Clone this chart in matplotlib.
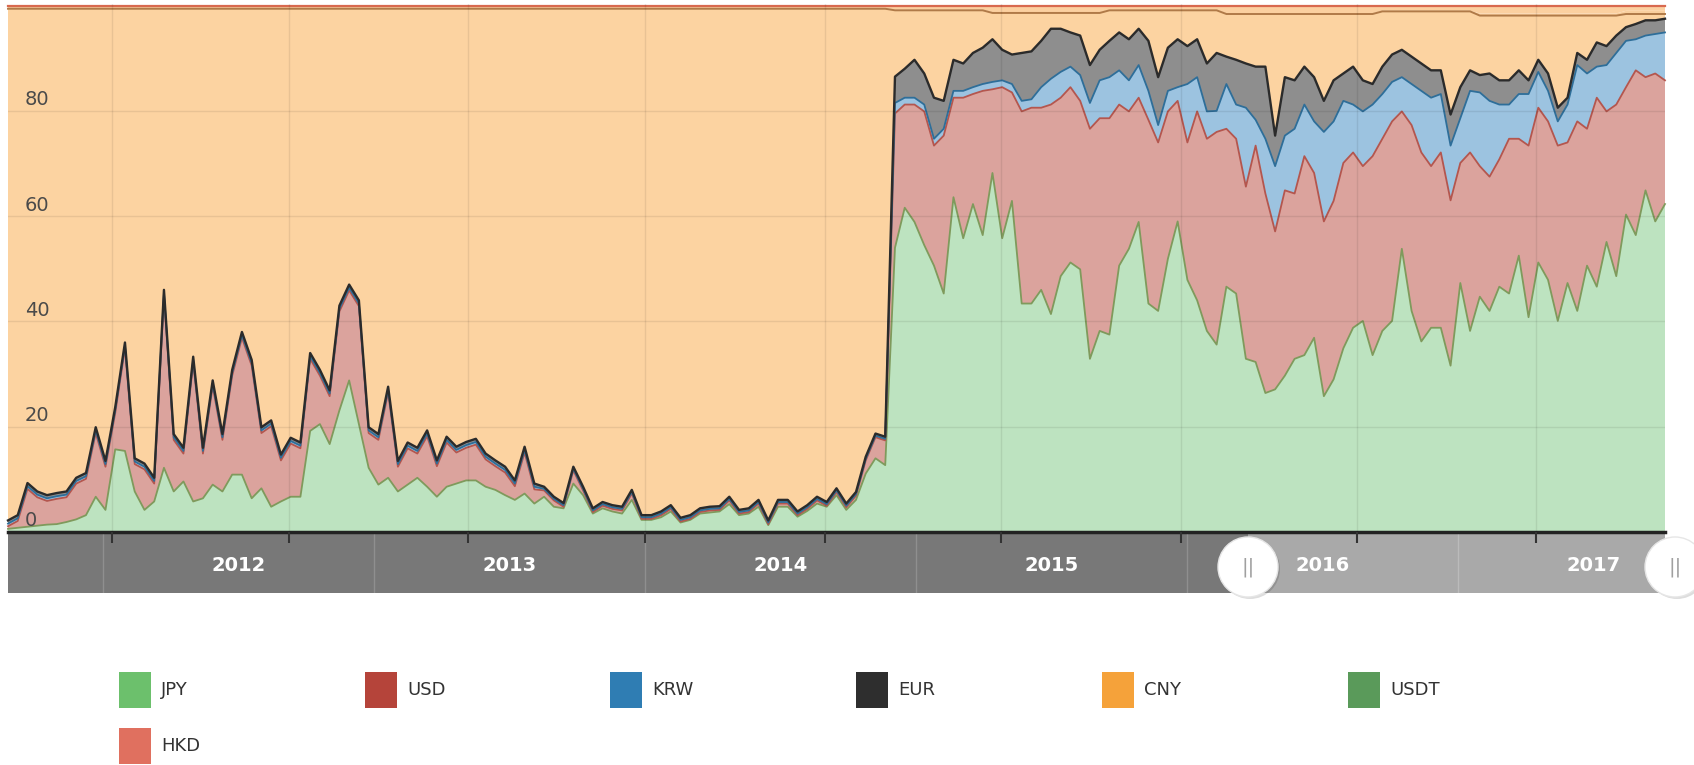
import numpy as np
import pandas as pd
import matplotlib
matplotlib.use('Agg')
import matplotlib.pyplot as plt
import matplotlib.dates as mdates
from matplotlib.patches import Rectangle, Ellipse
from matplotlib.transforms import blended_transform_factory

# share of volume by currency, one value every 10 days
jpy = [
    0.6, 0.8, 1.0, 1.2, 1.4, 1.5, 1.9, 2.4, 3.2, 6.7,
    4.2, 15.7, 15.4, 7.7, 4.2, 5.8, 12.2, 7.7, 9.6, 5.8,
    6.4, 9.0, 7.7, 10.9, 10.9, 6.4, 8.3, 4.8, 5.8, 6.7,
    6.7, 19.2, 20.5, 16.7, 23.1, 28.8, 20.5, 12.2, 9.0, 10.3,
    7.7, 9.0, 10.3, 8.6, 6.7, 8.6, 9.2, 9.8, 9.8, 8.6,
    8.0, 7.0, 6.1, 7.3, 5.4, 6.7, 4.8, 4.5, 9.2, 7.0,
    3.5, 4.5, 3.9, 3.5, 6.1, 2.3, 2.3, 2.8, 3.9, 1.8,
    2.3, 3.5, 3.7, 3.9, 5.3, 3.2, 3.5, 4.8, 1.3, 4.8,
    4.8, 2.9, 4.0, 5.4, 4.8, 7.0, 4.2, 6.1, 11.1, 14.0,
    12.7, 54.0, 61.6, 58.9, 54.5, 50.6, 45.3, 63.6, 55.8, 62.3,
    56.4, 68.2, 55.8, 62.9, 43.4, 43.4, 46.0, 41.4, 48.6, 51.2,
    49.9, 32.9, 38.2, 37.5, 50.6, 53.8, 58.9, 43.4, 42.0, 51.9,
    59.0, 47.9, 44.0, 38.2, 35.6, 46.6, 45.3, 32.9, 32.3, 26.4,
    27.1, 29.7, 32.9, 33.6, 36.9, 25.8, 29.0, 34.9, 38.8, 40.1,
    33.6, 38.2, 40.1, 53.8, 42.0, 36.2, 38.8, 38.8, 31.6, 47.3,
    38.2, 44.7, 42.0, 46.6, 45.3, 52.5, 40.8, 51.2, 47.9, 40.1,
    47.3, 42.0, 50.6, 46.6, 55.1, 48.6, 60.3, 56.4, 64.9, 59.0,
    62.3,
]
usd = [
    0.5, 1.3, 7.2, 5.4, 4.5, 4.8, 4.7, 6.8, 6.9, 12.1,
    8.2, 6.9, 19.5, 5.2, 7.7, 3.4, 32.7, 9.8, 5.3, 26.4,
    8.5, 18.7, 9.8, 18.8, 26.0, 25.2, 10.5, 15.3, 7.8, 10.1,
    9.2, 13.7, 9.2, 9.1, 18.8, 17.1, 22.4, 6.6, 8.5, 16.2,
    4.7, 6.9, 4.6, 9.6, 5.8, 8.4, 5.9, 6.2, 6.8, 5.2,
    4.5, 4.3, 2.6, 7.8, 2.7, 1.2, 1.2, 0.3, 2.5, 0.9,
    0.3, 0.5, 0.5, 0.6, 1.2, 0.2, 0.2, 0.4, 0.5, 0.2,
    0.2, 0.3, 0.4, 0.3, 0.7, 0.3, 0.3, 0.6, 0.2, 0.6,
    0.6, 0.3, 0.4, 0.6, 0.2, 0.6, 0.5, 0.8, 2.5, 4.0,
    4.7, 25.5, 19.6, 22.3, 25.4, 22.8, 30.0, 18.9, 26.7, 20.9,
    27.4, 15.9, 28.7, 20.6, 36.5, 37.2, 34.6, 39.8, 33.9, 33.3,
    32.0, 43.7, 40.4, 41.1, 30.6, 26.1, 23.6, 34.9, 32.0, 28.0,
    22.9, 26.1, 35.9, 36.5, 40.4, 30.0, 29.4, 32.7, 41.1, 37.9,
    30.0, 35.2, 31.4, 37.8, 31.3, 33.2, 33.9, 35.2, 33.3, 29.4,
    37.8, 36.5, 37.9, 26.1, 35.3, 35.9, 30.7, 33.3, 31.4, 22.8,
    33.9, 24.8, 25.5, 24.2, 29.4, 22.2, 32.6, 29.4, 30.1, 33.3,
    26.7, 36.0, 26.0, 35.9, 24.8, 32.6, 24.2, 31.3, 21.5, 28.1,
    23.5,
]
krw = [
    0.5, 0.5, 0.5, 0.5, 0.5, 0.5, 0.5, 0.5, 0.5, 0.5,
    0.5, 0.5, 0.5, 0.5, 0.5, 0.5, 0.5, 0.5, 0.5, 0.5,
    0.5, 0.5, 0.5, 0.5, 0.5, 0.5, 0.5, 0.5, 0.5, 0.5,
    0.5, 0.5, 0.5, 0.5, 0.5, 0.5, 0.5, 0.5, 0.5, 0.5,
    0.5, 0.5, 0.5, 0.5, 0.5, 0.5, 0.5, 0.5, 0.5, 0.5,
    0.5, 0.5, 0.5, 0.5, 0.5, 0.3, 0.3, 0.3, 0.3, 0.3,
    0.3, 0.3, 0.3, 0.3, 0.3, 0.3, 0.3, 0.3, 0.3, 0.3,
    0.3, 0.3, 0.3, 0.3, 0.3, 0.3, 0.3, 0.3, 0.3, 0.3,
    0.3, 0.3, 0.3, 0.3, 0.3, 0.3, 0.3, 0.3, 0.3, 0.3,
    0.3, 2.0, 1.3, 1.3, 1.3, 1.3, 1.3, 1.3, 1.3, 1.3,
    1.3, 1.4, 1.3, 1.6, 2.0, 1.6, 3.9, 4.9, 4.9, 3.9,
    4.9, 4.9, 7.2, 7.8, 6.5, 5.9, 6.2, 5.5, 3.3, 3.9,
    2.6, 11.1, 6.5, 5.2, 4.0, 8.5, 6.5, 15.0, 4.9, 10.4,
    12.4, 10.4, 12.3, 9.8, 9.8, 17.0, 15.1, 11.8, 9.1, 10.4,
    9.8, 8.5, 7.5, 6.5, 7.8, 11.7, 13.0, 11.1, 10.4, 8.5,
    11.7, 14.0, 14.4, 10.4, 6.5, 8.5, 9.8, 6.8, 5.8, 4.6,
    7.2, 10.7, 10.5, 5.9, 8.8, 9.8, 8.8, 5.9, 7.9, 7.5,
    9.1,
]
eur = [
    0.6, 0.6, 0.6, 0.6, 0.6, 0.6, 0.6, 0.6, 0.6, 0.6,
    0.6, 0.6, 0.6, 0.6, 0.6, 0.6, 0.6, 0.6, 0.6, 0.6,
    0.6, 0.6, 0.6, 0.6, 0.6, 0.6, 0.6, 0.6, 0.6, 0.6,
    0.6, 0.6, 0.6, 0.6, 0.6, 0.6, 0.6, 0.6, 0.6, 0.6,
    0.6, 0.6, 0.6, 0.6, 0.6, 0.6, 0.6, 0.6, 0.6, 0.6,
    0.6, 0.6, 0.6, 0.6, 0.6, 0.4, 0.4, 0.4, 0.4, 0.4,
    0.4, 0.4, 0.4, 0.4, 0.4, 0.4, 0.4, 0.4, 0.4, 0.4,
    0.4, 0.4, 0.4, 0.4, 0.4, 0.4, 0.4, 0.4, 0.4, 0.4,
    0.4, 0.4, 0.4, 0.4, 0.4, 0.4, 0.4, 0.4, 0.4, 0.4,
    0.4, 5.0, 5.5, 7.2, 5.9, 7.8, 5.3, 5.9, 5.2, 6.5,
    6.9, 8.1, 5.8, 5.6, 9.1, 9.1, 8.8, 9.5, 8.2, 6.5,
    7.5, 7.2, 5.8, 6.9, 7.2, 7.8, 6.9, 9.5, 9.1, 8.2,
    9.1, 7.2, 7.2, 9.1, 11.0, 5.2, 8.5, 8.4, 10.1, 13.7,
    5.8, 11.1, 9.2, 7.2, 8.4, 5.9, 7.8, 5.2, 7.2, 5.9,
    3.9, 5.2, 5.2, 5.2, 5.2, 5.2, 5.2, 4.5, 5.9, 5.9,
    3.9, 3.3, 5.2, 4.6, 4.6, 4.5, 2.6, 2.3, 3.3, 2.6,
    1.3, 2.3, 2.6, 4.6, 3.6, 3.3, 2.6, 2.9, 2.9, 2.6,
    2.6,
]
cny = [
    97.2, 96.2, 90.1, 91.7, 92.4, 92.0, 91.7, 89.1, 88.2, 79.5,
    85.9, 75.7, 63.4, 85.4, 86.4, 89.1, 53.4, 80.8, 83.4, 66.1,
    83.4, 70.6, 80.8, 68.6, 61.4, 66.7, 79.5, 78.2, 84.7, 81.5,
    82.4, 65.4, 68.6, 72.5, 56.4, 52.4, 55.4, 79.5, 80.8, 71.8,
    85.9, 82.4, 83.4, 80.1, 85.8, 81.3, 83.2, 82.3, 81.7, 84.5,
    85.8, 87.0, 89.6, 83.2, 90.2, 90.8, 92.7, 94.0, 87.0, 90.8,
    94.9, 93.7, 94.3, 94.6, 91.4, 96.2, 96.2, 95.5, 94.3, 96.8,
    96.2, 94.9, 94.6, 94.5, 92.7, 95.2, 94.9, 93.3, 97.4, 93.3,
    93.3, 95.5, 94.3, 92.7, 93.7, 91.1, 94.0, 91.8, 85.1, 80.7,
    81.3, 12.6, 11.1, 9.4, 12.0, 16.6, 17.2, 9.4, 10.1, 8.1,
    7.1, 5.0, 7.0, 7.9, 7.6, 7.3, 5.3, 3.0, 3.0, 3.7,
    4.3, 9.9, 7.0, 5.8, 4.2, 5.5, 3.5, 5.8, 12.7, 7.1,
    5.5, 6.8, 5.5, 10.1, 8.1, 8.1, 8.7, 9.4, 10.0, 10.0,
    23.1, 12.0, 12.6, 10.0, 12.0, 16.5, 12.6, 11.3, 10.0, 12.6,
    13.3, 10.5, 8.2, 7.3, 8.6, 9.9, 11.2, 11.2, 19.6, 14.4,
    11.2, 11.3, 11.0, 12.3, 12.3, 10.4, 12.3, 8.4, 11.0, 17.5,
    15.6, 7.1, 8.4, 5.1, 5.8, 3.8, 2.5, 1.9, 1.2, 1.2,
    0.9,
]
usdt = [
    0.1, 0.1, 0.1, 0.1, 0.1, 0.1, 0.1, 0.1, 0.1, 0.1,
    0.1, 0.1, 0.1, 0.1, 0.1, 0.1, 0.1, 0.1, 0.1, 0.1,
    0.1, 0.1, 0.1, 0.1, 0.1, 0.1, 0.1, 0.1, 0.1, 0.1,
    0.1, 0.1, 0.1, 0.1, 0.1, 0.1, 0.1, 0.1, 0.1, 0.1,
    0.1, 0.1, 0.1, 0.1, 0.1, 0.1, 0.1, 0.1, 0.1, 0.1,
    0.1, 0.1, 0.1, 0.1, 0.1, 0.1, 0.1, 0.1, 0.1, 0.1,
    0.1, 0.1, 0.1, 0.1, 0.1, 0.1, 0.1, 0.1, 0.1, 0.1,
    0.1, 0.1, 0.1, 0.1, 0.1, 0.1, 0.1, 0.1, 0.1, 0.1,
    0.1, 0.1, 0.1, 0.1, 0.1, 0.1, 0.1, 0.1, 0.1, 0.1,
    0.1, 0.1, 0.1, 0.1, 0.1, 0.1, 0.1, 0.1, 0.1, 0.1,
    0.1, 0.1, 0.1, 0.1, 0.1, 0.1, 0.1, 0.1, 0.1, 0.1,
    0.1, 0.1, 0.1, 0.1, 0.1, 0.1, 0.1, 0.1, 0.1, 0.1,
    0.1, 0.1, 0.1, 0.1, 0.1, 0.1, 0.1, 0.1, 0.1, 0.1,
    0.1, 0.1, 0.1, 0.1, 0.1, 0.1, 0.1, 0.1, 0.1, 0.1,
    0.1, 0.1, 0.1, 0.1, 0.1, 0.1, 0.1, 0.1, 0.1, 0.1,
    0.1, 0.4, 0.4, 0.4, 0.4, 0.4, 0.4, 0.4, 0.4, 0.4,
    0.4, 0.4, 0.4, 0.4, 0.4, 0.4, 0.6, 0.6, 0.6, 0.6,
    0.6,
]
hkd = [
    0.5, 0.5, 0.5, 0.5, 0.5, 0.5, 0.5, 0.5, 0.5, 0.5,
    0.5, 0.5, 0.5, 0.5, 0.5, 0.5, 0.5, 0.5, 0.5, 0.5,
    0.5, 0.5, 0.5, 0.5, 0.5, 0.5, 0.5, 0.5, 0.5, 0.5,
    0.5, 0.5, 0.5, 0.5, 0.5, 0.5, 0.5, 0.5, 0.5, 0.5,
    0.5, 0.5, 0.5, 0.5, 0.5, 0.5, 0.5, 0.5, 0.5, 0.5,
    0.5, 0.5, 0.5, 0.5, 0.5, 0.5, 0.5, 0.5, 0.5, 0.5,
    0.5, 0.5, 0.5, 0.5, 0.5, 0.5, 0.5, 0.5, 0.5, 0.5,
    0.5, 0.5, 0.5, 0.5, 0.5, 0.5, 0.5, 0.5, 0.5, 0.5,
    0.5, 0.5, 0.5, 0.5, 0.5, 0.5, 0.5, 0.5, 0.5, 0.5,
    0.5, 0.8, 0.8, 0.8, 0.8, 0.8, 0.8, 0.8, 0.8, 0.8,
    0.8, 1.3, 1.3, 1.3, 1.3, 1.3, 1.3, 1.3, 1.3, 1.3,
    1.3, 1.3, 1.3, 0.8, 0.8, 0.8, 0.8, 0.8, 0.8, 0.8,
    0.8, 0.8, 0.8, 0.8, 0.8, 1.5, 1.5, 1.5, 1.5, 1.5,
    1.5, 1.5, 1.5, 1.5, 1.5, 1.5, 1.5, 1.5, 1.5, 1.5,
    1.5, 1.0, 1.0, 1.0, 1.0, 1.0, 1.0, 1.0, 1.0, 1.0,
    1.0, 1.5, 1.5, 1.5, 1.5, 1.5, 1.5, 1.5, 1.5, 1.5,
    1.5, 1.5, 1.5, 1.5, 1.5, 1.5, 1.0, 1.0, 1.0, 1.0,
    1.0,
]

names = ['JPY', 'USD', 'KRW', 'EUR', 'CNY', 'USDT', 'HKD']
legend_colors = ['#6cc06c', '#b5443a', '#2f7db3', '#2e2e2e', '#f5a23a', '#5a9a5a', '#e0705f']
fill_colors = ['#bde3c0', '#dba39d', '#9cc3e0', '#8e8e8e', '#fcd3a1', '#f9cf9e', '#fbd0a0']
edge_colors = ['#7f9a5c', '#b4564e', '#2e6e99', '#2b2b2b', '#b07a48', None, '#d8694f']
edge_widths = [1.3, 1.3, 1.3, 1.7, 1.4, 0, 1.6]
year_labels = ['2012', '2013', '2014', '2015', '2016', '2017']

series = [jpy, usd, krw, eur, cny, usdt, hkd]
for s in series:
    assert len(s) == 171, len(s)

W, H = 1694, 765
dates = pd.date_range('2014-09-16', periods=len(jpy), freq='10D')
vals = np.array(series, dtype=float)
pct = vals / vals.sum(axis=0) * 100  # percent stacking
tops = np.cumsum(pct, axis=0)

fig = plt.figure(figsize=(W / 100, H / 100), dpi=100)
fig.patch.set_facecolor('white')

def fx(px):
    return px / W

def fy(py):
    return 1 - py / H

# navigator strip under the main chart
nav = fig.add_axes([fx(8), fy(593), fx(1665) - fx(8), fy(532) - fy(593)])
nav.set_zorder(0)
nav.set_facecolor('#787878')
nav.set_xlim(2011.65, 2017.765)
nav.set_ylim(0, 1)
nav.axvspan(2016.225, 2017.765, color='#a9a9a9', lw=0)
for k, lab in enumerate(year_labels):
    yr = 2012 + k
    nav.axvline(yr, color='#8f8f8f' if yr < 2016.2 else '#bbbbbb', lw=1)
    nav.text(yr + 0.5, 0.45, lab, color='white', fontsize=14, fontweight='bold',
             ha='center', va='center')
for sp in nav.spines.values():
    sp.set_visible(False)
nav.set_xticks([])
nav.set_yticks([])

# main stacked area chart
ax = fig.add_axes([fx(8), fy(532), fx(1665) - fx(8), fy(4) - fy(532)])
ax.set_zorder(2)
ax.stackplot(dates, pct, colors=fill_colors, linewidth=0)
for k in range(len(names)):
    if edge_colors[k] is None:
        continue
    ax.plot(dates, tops[k], color=edge_colors[k], lw=edge_widths[k],
            solid_joinstyle='round', clip_on=False)
ax.set_xlim(dates[0], dates[-1])
ax.set_ylim(0, 100.3)
ax.set_yticks([20, 40, 60, 80])
ax.xaxis.set_major_locator(mdates.MonthLocator(bymonth=[1, 7]))
ax.grid(True, color='black', alpha=0.08, lw=1)
ax.set_axisbelow(False)
ax.tick_params(axis='x', labelbottom=False, length=8, width=1.5, color='#333333', direction='out')
ax.tick_params(axis='y', left=False, labelleft=False)
for side in ['top', 'left', 'right']:
    ax.spines[side].set_visible(False)
ax.spines['bottom'].set_color('#222222')
ax.spines['bottom'].set_linewidth(2.5)

trans = blended_transform_factory(ax.transAxes, ax.transData)
for v in [0, 20, 40, 60, 80]:
    ax.text(0.010, v + 2.1, str(v), transform=trans, fontsize=14, color='#4a4a4a',
            ha='left', va='center')

# navigator handles
for cx in [1248, 1675]:
    shadow = Ellipse((fx(cx + 2), fy(569)), 2 * 30 / W, 2 * 30 / H, transform=fig.transFigure,
                     facecolor='#00000022', edgecolor='none', zorder=5)
    fig.add_artist(shadow)
    handle = Ellipse((fx(cx), fy(567)), 2 * 30 / W, 2 * 30 / H, transform=fig.transFigure,
                     facecolor='white', edgecolor='#e6e6e6', lw=1, zorder=6)
    fig.add_artist(handle)
    fig.text(fx(cx), fy(567), '||', color='#a0a0a0', fontsize=14, ha='center', va='center',
             zorder=7)

# legend below
col_x = [119, 365, 610, 856, 1102, 1348]
row_y = [672, 728]
for k, name in enumerate(names):
    x0 = col_x[k % 6]
    y0 = row_y[k // 6]
    fig.add_artist(Rectangle((fx(x0), fy(y0 + 36)), 32 / W, 36 / H, transform=fig.transFigure,
                             facecolor=legend_colors[k], edgecolor='none'))
    fig.text(fx(x0 + 42), fy(y0 + 18), name, fontsize=13, color='#333333',
             ha='left', va='center')

fig.savefig('out.png', dpi=100)
